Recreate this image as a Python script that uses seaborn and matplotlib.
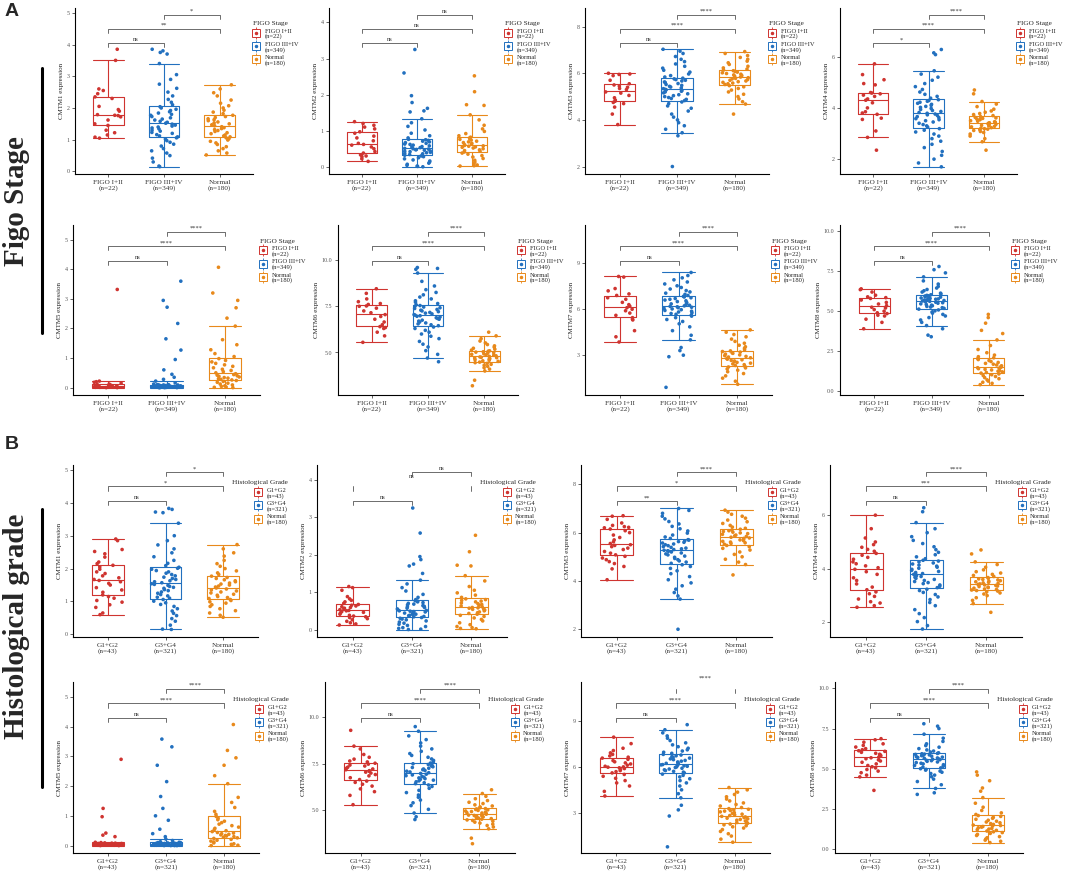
import numpy as np
import pandas as pd
import matplotlib
matplotlib.use("Agg")
import matplotlib.pyplot as plt
from matplotlib.lines import Line2D
import seaborn as sns

# ---- values (per group, CMTM1..CMTM8) ----
cmtm1_normal = [0.52, 0.58, 0.65, 0.72, 0.78, 0.85, 0.90, 0.95, 0.99, 1.03, 1.06,
                1.09, 1.12, 1.15, 1.19, 1.22, 1.26, 1.29, 1.32, 1.35, 1.38, 1.41,
                1.44, 1.47, 1.50, 1.53, 1.56, 1.60, 1.63, 1.66, 1.70, 1.73, 1.77,
                1.82, 1.87, 1.93, 2.00, 2.07, 2.15, 2.25, 2.38, 2.48, 2.60, 2.73]
cmtm1_figo_early = [1.05, 1.08, 1.15, 1.22, 1.30, 1.45, 1.50, 1.62, 1.72, 1.76, 1.77,
                    1.79, 1.90, 1.95, 2.05, 2.30, 2.35, 2.45, 2.55, 2.60, 3.50, 3.85]
cmtm1_figo_late = [0.15, 0.17, 0.30, 0.42, 0.50, 0.58, 0.65, 0.72, 0.80, 0.86, 0.92, 0.97, 1.02, 1.06,
                   1.09, 1.12, 1.16, 1.20, 1.23, 1.27, 1.30, 1.34, 1.37, 1.40, 1.43, 1.46, 1.49, 1.52,
                   1.55, 1.58, 1.62, 1.65, 1.69, 1.73, 1.77, 1.80, 1.84, 1.88, 1.92, 1.96, 2.00, 2.04,
                   2.10, 2.18, 2.27, 2.38, 2.50, 2.62, 2.75, 2.90, 3.05, 3.40, 3.70, 3.75, 3.80, 3.85]
cmtm1_grade_low = [0.60, 0.65, 0.82, 0.90, 0.98, 1.03, 1.10, 1.15,
                   1.20, 1.28, 1.35, 1.42, 1.50, 1.55, 1.60, 1.64,
                   1.67, 1.72, 1.78, 1.85, 1.90, 1.98, 2.05, 2.10,
                   2.15, 2.20, 2.35, 2.45, 2.52, 2.58, 2.85, 2.90]
cmtm1_grade_high = [0.15, 0.16, 0.28, 0.40, 0.48, 0.57, 0.64, 0.71, 0.78, 0.85, 0.91, 0.96, 1.01, 1.06,
                    1.10, 1.13, 1.17, 1.21, 1.25, 1.29, 1.33, 1.36, 1.40, 1.43, 1.46, 1.49, 1.52, 1.54,
                    1.57, 1.60, 1.63, 1.67, 1.70, 1.74, 1.78, 1.82, 1.86, 1.90, 1.94, 1.98, 2.01, 2.04,
                    2.09, 2.16, 2.25, 2.36, 2.48, 2.60, 2.72, 2.85, 3.00, 3.38, 3.70, 3.72, 3.80, 3.83]

cmtm2_normal = [0.02, 0.03, 0.05, 0.08, 0.13, 0.18, 0.23, 0.27, 0.31, 0.35, 0.38,
                0.41, 0.43, 0.45, 0.47, 0.50, 0.52, 0.54, 0.55, 0.57, 0.58, 0.59,
                0.61, 0.63, 0.65, 0.67, 0.69, 0.71, 0.74, 0.76, 0.78, 0.80, 0.82,
                0.86, 0.92, 0.98, 1.05, 1.15, 1.30, 1.44, 1.70, 1.72, 2.08, 2.52]
cmtm2_figo_early = [0.15, 0.22, 0.28, 0.30, 0.33, 0.38, 0.42, 0.50, 0.55, 0.60, 0.62,
                    0.65, 0.72, 0.80, 0.85, 0.93, 0.97, 1.05, 1.10, 1.15, 1.20, 1.25]
cmtm2_figo_late = [0.00, 0.01, 0.02, 0.04, 0.07, 0.10, 0.13, 0.16, 0.19, 0.22, 0.25, 0.28, 0.30, 0.32,
                   0.34, 0.36, 0.37, 0.39, 0.40, 0.42, 0.43, 0.44, 0.46, 0.47, 0.48, 0.49, 0.50, 0.51,
                   0.53, 0.55, 0.56, 0.58, 0.60, 0.62, 0.63, 0.65, 0.67, 0.69, 0.71, 0.73, 0.75, 0.76,
                   0.80, 0.86, 0.93, 1.02, 1.12, 1.22, 1.33, 1.52, 1.55, 1.62, 1.78, 1.97, 2.60, 3.25]
cmtm2_grade_low = [0.12, 0.15, 0.18, 0.22, 0.26, 0.29, 0.32, 0.34,
                   0.36, 0.38, 0.41, 0.44, 0.46, 0.48, 0.50, 0.51,
                   0.53, 0.55, 0.57, 0.59, 0.61, 0.63, 0.65, 0.67,
                   0.70, 0.74, 0.78, 0.82, 0.88, 1.05, 1.12, 1.15]
cmtm2_grade_high = [0.00, 0.01, 0.03, 0.05, 0.08, 0.11, 0.14, 0.17, 0.20, 0.23, 0.26, 0.28, 0.30, 0.32,
                    0.34, 0.35, 0.37, 0.38, 0.40, 0.41, 0.43, 0.44, 0.46, 0.47, 0.48, 0.49, 0.50, 0.51,
                    0.53, 0.55, 0.57, 0.59, 0.61, 0.62, 0.64, 0.66, 0.68, 0.70, 0.72, 0.74, 0.76, 0.77,
                    0.80, 0.86, 0.94, 1.03, 1.12, 1.22, 1.32, 1.50, 1.70, 1.75, 1.87, 1.95, 2.58, 3.25]

cmtm3_normal = [4.25, 4.68, 4.78, 4.90, 5.00, 5.10, 5.20, 5.28, 5.35, 5.42, 5.47,
                5.52, 5.55, 5.58, 5.61, 5.64, 5.67, 5.70, 5.73, 5.76, 5.78, 5.81,
                5.84, 5.87, 5.90, 5.93, 5.96, 5.99, 6.02, 6.05, 6.08, 6.11, 6.14,
                6.18, 6.23, 6.30, 6.38, 6.45, 6.52, 6.60, 6.68, 6.76, 6.85, 6.93]
cmtm3_figo_early = [3.80, 4.25, 4.55, 4.70, 4.75, 4.80, 4.85, 4.95, 5.05, 5.15, 5.20,
                    5.30, 5.35, 5.40, 5.45, 5.50, 5.55, 5.70, 5.90, 5.95, 5.97, 6.00]
cmtm3_figo_late = [2.00, 3.32, 3.45, 3.60, 3.75, 3.88, 4.00, 4.12, 4.25, 4.38, 4.50, 4.60, 4.70, 4.77,
                   4.83, 4.88, 4.92, 4.96, 5.00, 5.04, 5.08, 5.12, 5.16, 5.20, 5.23, 5.26, 5.29, 5.31,
                   5.34, 5.37, 5.41, 5.44, 5.48, 5.52, 5.56, 5.60, 5.63, 5.67, 5.70, 5.73, 5.76, 5.79,
                   5.84, 5.90, 5.97, 6.05, 6.13, 6.22, 6.30, 6.40, 6.50, 6.60, 6.72, 6.85, 6.95, 7.03]
cmtm3_grade_low = [4.05, 4.50, 4.60, 4.72, 4.80, 4.88, 4.95, 5.02,
                   5.08, 5.15, 5.22, 5.30, 5.36, 5.42, 5.47, 5.50,
                   5.55, 5.62, 5.70, 5.80, 5.90, 6.00, 6.08, 6.15,
                   6.20, 6.22, 6.25, 6.30, 6.40, 6.55, 6.68, 6.70]
cmtm3_grade_high = [2.00, 3.25, 3.38, 3.52, 3.66, 3.80, 3.92, 4.05, 4.18, 4.30, 4.42, 4.52, 4.60, 4.67,
                    4.73, 4.78, 4.83, 4.88, 4.93, 4.98, 5.03, 5.08, 5.12, 5.16, 5.20, 5.23, 5.25, 5.27,
                    5.30, 5.33, 5.36, 5.39, 5.42, 5.46, 5.50, 5.53, 5.57, 5.60, 5.63, 5.66, 5.69, 5.71,
                    5.76, 5.82, 5.90, 5.98, 6.07, 6.16, 6.26, 6.36, 6.46, 6.57, 6.68, 6.80, 6.92, 7.00]

cmtm4_normal = [2.35, 2.68, 2.80, 2.90, 2.98, 3.04, 3.08, 3.12, 3.15, 3.17, 3.19,
                3.21, 3.23, 3.26, 3.28, 3.30, 3.32, 3.34, 3.36, 3.38, 3.40, 3.42,
                3.44, 3.46, 3.48, 3.50, 3.52, 3.54, 3.57, 3.59, 3.61, 3.63, 3.66,
                3.70, 3.74, 3.78, 3.83, 3.88, 3.95, 4.05, 4.15, 4.25, 4.55, 4.70]
cmtm4_figo_early = [2.35, 2.85, 3.10, 3.55, 3.60, 3.75, 3.80, 3.85, 4.00, 4.20, 4.30,
                    4.35, 4.45, 4.50, 4.55, 4.58, 4.60, 4.90, 4.95, 5.10, 5.30, 5.72]
cmtm4_figo_late = [1.70, 1.85, 2.00, 2.15, 2.30, 2.45, 2.58, 2.70, 2.80, 2.90, 2.98, 3.06, 3.13, 3.19,
                   3.25, 3.30, 3.35, 3.40, 3.45, 3.50, 3.54, 3.58, 3.62, 3.66, 3.70, 3.73, 3.76, 3.79,
                   3.82, 3.86, 3.90, 3.94, 3.98, 4.02, 4.06, 4.10, 4.14, 4.18, 4.22, 4.26, 4.29, 4.32,
                   4.38, 4.45, 4.53, 4.62, 4.72, 4.83, 4.95, 5.08, 5.20, 5.32, 5.45, 6.08, 6.15, 6.28]
cmtm4_grade_low = [2.54, 2.60, 2.70, 2.75, 2.85, 2.95, 3.05, 3.12,
                   3.20, 3.30, 3.42, 3.55, 3.65, 3.78, 3.88, 3.97,
                   4.03, 4.10, 4.18, 4.25, 4.35, 4.42, 4.50, 4.57,
                   4.65, 4.72, 4.80, 4.90, 5.00, 5.15, 5.50, 6.01]
cmtm4_grade_high = [1.72, 1.85, 2.00, 2.15, 2.30, 2.45, 2.60, 2.72, 2.83, 2.93, 3.02, 3.10, 3.17, 3.22,
                    3.28, 3.33, 3.38, 3.43, 3.47, 3.51, 3.55, 3.59, 3.63, 3.67, 3.70, 3.73, 3.76, 3.78,
                    3.81, 3.85, 3.89, 3.93, 3.97, 4.01, 4.05, 4.09, 4.13, 4.17, 4.21, 4.25, 4.28, 4.31,
                    4.37, 4.44, 4.52, 4.61, 4.71, 4.82, 4.94, 5.06, 5.20, 5.35, 5.50, 5.73, 6.14, 6.29]

cmtm5_normal = [0.00, 0.01, 0.02, 0.04, 0.06, 0.09, 0.12, 0.15, 0.18, 0.21, 0.24,
                0.26, 0.28, 0.30, 0.32, 0.34, 0.36, 0.38, 0.40, 0.42, 0.44, 0.47,
                0.50, 0.54, 0.58, 0.62, 0.67, 0.72, 0.77, 0.82, 0.87, 0.92, 0.98,
                1.05, 1.15, 1.28, 1.45, 1.62, 2.08, 2.35, 2.70, 2.95, 3.20, 4.07]
cmtm5_figo_early = [0.00, 0.00, 0.01, 0.01, 0.02, 0.02, 0.03, 0.03, 0.04, 0.05, 0.05,
                    0.06, 0.07, 0.08, 0.09, 0.10, 0.12, 0.15, 0.18, 0.20, 0.22, 3.32]
cmtm5_figo_late = [0.00, 0.00, 0.00, 0.00, 0.01, 0.01, 0.01, 0.01, 0.02, 0.02, 0.02, 0.02, 0.02, 0.02,
                   0.02, 0.03, 0.03, 0.03, 0.03, 0.04, 0.04, 0.04, 0.04, 0.05, 0.05, 0.05, 0.05, 0.05,
                   0.06, 0.06, 0.06, 0.07, 0.07, 0.07, 0.08, 0.08, 0.08, 0.09, 0.09, 0.09, 0.10, 0.10,
                   0.12, 0.16, 0.22, 0.28, 0.35, 0.45, 0.60, 0.95, 1.27, 1.65, 2.17, 2.72, 2.95, 3.60]
cmtm5_grade_low = [0.00, 0.00, 0.01, 0.01, 0.02, 0.02, 0.02, 0.03,
                   0.03, 0.03, 0.04, 0.04, 0.04, 0.05, 0.05, 0.05,
                   0.06, 0.06, 0.06, 0.07, 0.07, 0.08, 0.08, 0.09,
                   0.10, 0.11, 0.30, 0.35, 0.42, 0.97, 1.25, 2.90]
cmtm5_grade_high = [0.00, 0.00, 0.00, 0.00, 0.01, 0.01, 0.01, 0.01, 0.01, 0.02, 0.02, 0.02, 0.02, 0.02,
                    0.03, 0.03, 0.03, 0.03, 0.03, 0.04, 0.04, 0.04, 0.04, 0.04, 0.05, 0.05, 0.05, 0.05,
                    0.06, 0.06, 0.06, 0.07, 0.07, 0.07, 0.08, 0.08, 0.08, 0.09, 0.09, 0.10, 0.10, 0.11,
                    0.13, 0.17, 0.22, 0.30, 0.40, 0.55, 0.85, 1.00, 1.25, 1.65, 2.15, 2.70, 3.32, 3.58]

cmtm6_normal = [3.20, 3.50, 4.00, 4.10, 4.18, 4.25, 4.31, 4.36, 4.41, 4.45, 4.48,
                4.52, 4.55, 4.58, 4.61, 4.64, 4.67, 4.70, 4.72, 4.74, 4.76, 4.79,
                4.82, 4.85, 4.87, 4.90, 4.93, 4.96, 4.99, 5.02, 5.04, 5.07, 5.09,
                5.13, 5.18, 5.23, 5.29, 5.36, 5.43, 5.52, 5.62, 5.75, 5.90, 6.10]
cmtm6_figo_early = [5.55, 5.90, 6.10, 6.30, 6.35, 6.40, 6.50, 6.65, 6.80, 6.95, 7.05,
                    7.15, 7.25, 7.40, 7.50, 7.52, 7.60, 7.65, 7.75, 7.90, 8.20, 8.45]
cmtm6_figo_late = [4.50, 4.70, 4.90, 5.10, 5.30, 5.45, 5.60, 5.75, 5.88, 6.00, 6.10, 6.20, 6.30, 6.38,
                   6.45, 6.50, 6.55, 6.60, 6.65, 6.70, 6.75, 6.80, 6.84, 6.88, 6.92, 6.96, 6.99, 7.02,
                   7.05, 7.09, 7.13, 7.17, 7.21, 7.25, 7.29, 7.33, 7.38, 7.42, 7.46, 7.50, 7.54, 7.58,
                   7.65, 7.72, 7.80, 7.90, 8.00, 8.12, 8.25, 8.40, 8.60, 8.85, 9.30, 9.50, 9.55, 9.60]
cmtm6_grade_low = [5.30, 5.80, 6.00, 6.15, 6.30, 6.40, 6.50, 6.57,
                   6.65, 6.75, 6.85, 6.92, 7.00, 7.05, 7.10, 7.13,
                   7.18, 7.22, 7.27, 7.32, 7.38, 7.43, 7.48, 7.53,
                   7.60, 7.65, 7.75, 7.85, 8.00, 8.30, 8.45, 9.30]
cmtm6_grade_high = [4.50, 4.65, 4.85, 5.05, 5.25, 5.40, 5.55, 5.70, 5.82, 5.95, 6.07, 6.18, 6.28, 6.36,
                    6.43, 6.48, 6.53, 6.58, 6.62, 6.66, 6.70, 6.74, 6.78, 6.82, 6.86, 6.90, 6.94, 6.98,
                    7.02, 7.06, 7.10, 7.14, 7.18, 7.22, 7.26, 7.30, 7.34, 7.38, 7.42, 7.46, 7.50, 7.54,
                    7.60, 7.68, 7.76, 7.85, 7.95, 8.05, 8.17, 8.30, 8.45, 8.62, 8.80, 9.00, 9.25, 9.50]

cmtm7_normal = [1.10, 1.30, 1.50, 1.65, 1.80, 1.92, 2.02, 2.10, 2.17, 2.23, 2.28,
                2.33, 2.38, 2.43, 2.48, 2.53, 2.58, 2.62, 2.66, 2.70, 2.74, 2.78,
                2.83, 2.88, 2.92, 2.97, 3.02, 3.07, 3.12, 3.16, 3.20, 3.24, 3.28,
                3.35, 3.45, 3.55, 3.65, 3.78, 3.90, 4.05, 4.20, 4.35, 4.50, 4.65]
cmtm7_figo_early = [3.86, 4.20, 4.60, 5.30, 5.35, 5.45, 5.60, 5.75, 5.90, 6.00, 6.10,
                    6.20, 6.30, 6.45, 6.65, 6.75, 6.90, 7.00, 7.20, 7.35, 8.10, 8.14]
cmtm7_figo_late = [0.90, 2.90, 3.00, 3.30, 3.50, 4.00, 4.30, 4.60, 4.85, 5.05, 5.20, 5.33, 5.45, 5.55,
                   5.62, 5.67, 5.72, 5.77, 5.82, 5.87, 5.92, 5.97, 6.02, 6.06, 6.10, 6.13, 6.16, 6.19,
                   6.22, 6.26, 6.30, 6.35, 6.40, 6.45, 6.50, 6.55, 6.60, 6.65, 6.70, 6.75, 6.80, 6.84,
                   6.90, 6.97, 7.05, 7.13, 7.22, 7.32, 7.42, 7.53, 7.65, 7.78, 7.92, 8.05, 8.20, 8.40]
cmtm7_grade_low = [4.10, 4.40, 4.75, 4.95, 5.10, 5.25, 5.38, 5.50,
                   5.60, 5.68, 5.75, 5.82, 5.88, 5.93, 5.97, 5.99,
                   6.03, 6.10, 6.18, 6.25, 6.32, 6.40, 6.48, 6.56,
                   6.62, 6.70, 6.80, 6.90, 7.05, 7.20, 7.50, 7.92]
cmtm7_grade_high = [0.80, 2.80, 3.20, 3.50, 3.98, 4.25, 4.50, 4.75, 4.95, 5.10, 5.22, 5.34, 5.44, 5.52,
                    5.60, 5.65, 5.70, 5.75, 5.80, 5.85, 5.90, 5.95, 5.99, 6.03, 6.06, 6.09, 6.12, 6.14,
                    6.18, 6.22, 6.26, 6.31, 6.36, 6.41, 6.46, 6.51, 6.56, 6.61, 6.66, 6.71, 6.76, 6.80,
                    6.87, 6.94, 7.02, 7.10, 7.20, 7.30, 7.42, 7.55, 7.70, 7.85, 8.00, 8.20, 8.40, 8.73]

cmtm8_normal = [0.40, 0.48, 0.55, 0.62, 0.70, 0.77, 0.84, 0.91, 0.97, 1.02, 1.07,
                1.12, 1.16, 1.20, 1.24, 1.28, 1.32, 1.36, 1.40, 1.43, 1.46, 1.49,
                1.53, 1.58, 1.63, 1.68, 1.73, 1.79, 1.85, 1.91, 1.97, 2.03, 2.08,
                2.15, 2.25, 2.40, 2.60, 2.85, 3.20, 3.60, 3.80, 4.25, 4.60, 4.80]
cmtm8_figo_early = [3.90, 4.30, 4.50, 4.70, 4.75, 4.85, 4.90, 5.00, 5.10, 5.20, 5.25,
                    5.35, 5.45, 5.55, 5.70, 5.80, 5.85, 5.90, 6.00, 6.20, 6.35, 6.40]
cmtm8_figo_late = [3.40, 3.50, 3.90, 4.10, 4.30, 4.45, 4.60, 4.70, 4.80, 4.88, 4.95, 5.02, 5.08, 5.13,
                   5.18, 5.22, 5.26, 5.30, 5.34, 5.38, 5.42, 5.46, 5.50, 5.53, 5.56, 5.59, 5.62, 5.64,
                   5.67, 5.70, 5.72, 5.75, 5.77, 5.80, 5.83, 5.85, 5.88, 5.90, 5.93, 5.95, 5.97, 5.99,
                   6.03, 6.08, 6.13, 6.20, 6.28, 6.36, 6.45, 6.55, 6.70, 6.90, 7.15, 7.40, 7.60, 7.80]
cmtm8_grade_low = [3.65, 4.49, 4.60, 4.75, 4.85, 4.95, 5.05, 5.12,
                   5.20, 5.30, 5.40, 5.48, 5.55, 5.62, 5.68, 5.72,
                   5.75, 5.80, 5.85, 5.90, 5.96, 6.02, 6.08, 6.12,
                   6.18, 6.25, 6.35, 6.45, 6.55, 6.65, 6.80, 6.87]
cmtm8_grade_high = [3.40, 3.50, 3.77, 4.00, 4.20, 4.35, 4.50, 4.60, 4.70, 4.78, 4.85, 4.91, 4.96, 5.00,
                    5.05, 5.10, 5.15, 5.20, 5.25, 5.30, 5.34, 5.38, 5.42, 5.46, 5.50, 5.53, 5.56, 5.59,
                    5.62, 5.65, 5.67, 5.70, 5.72, 5.75, 5.78, 5.81, 5.84, 5.86, 5.89, 5.91, 5.93, 5.95,
                    5.99, 6.04, 6.10, 6.17, 6.25, 6.34, 6.44, 6.55, 6.70, 6.90, 7.15, 7.50, 7.65, 7.80]

genes = ["CMTM1", "CMTM2", "CMTM3", "CMTM4", "CMTM5", "CMTM6", "CMTM7", "CMTM8"]
figo_labels = ["FIGO I+II\n(n=22)", "FIGO III+IV\n(n=349)", "Normal\n(n=180)"]
grade_labels = ["G1+G2\n(n=43)", "G3+G4\n(n=321)", "Normal\n(n=180)"]

# significance for pairs (0-1, 0-2, 1-2)
figo_sig = [["ns", "**", "*"], ["ns", "ns", "ns"], ["ns", "****", "****"], ["*", "****", "****"],
            ["ns", "****", "****"], ["ns", "****", "****"], ["ns", "****", "****"], ["ns", "****", "****"]]
grade_sig = [["ns", "*", "*"], ["ns", "ns", "ns"], ["**", "*", "****"], ["ns", "***", "****"],
             ["ns", "****", "****"], ["ns", "****", "****"], ["ns", "****", "****"], ["ns", "****", "****"]]

y_limits = [(-0.08, 5.15), (-0.2, 4.4), (1.68, 8.8), (1.42, 7.9),
            (-0.25, 5.5), (2.7, 11.9), (0.4, 11.5), (-0.25, 10.4)]
y_ticks = [[0, 1, 2, 3, 4, 5], [0, 1, 2, 3, 4], [2, 4, 6, 8], [2, 4, 6],
           [0, 1, 2, 3, 4, 5], [5.0, 7.5, 10.0], [3, 6, 9], [0.0, 2.5, 5.0, 7.5, 10.0]]
y_ticklabels = [["0", "1", "2", "3", "4", "5"], ["0", "1", "2", "3", "4"], ["2", "4", "6", "8"],
                ["2", "4", "6"], ["0", "1", "2", "3", "4", "5"], ["5.0", "7.5", "10.0"],
                ["3", "6", "9"], ["0.0", "2.5", "5.0", "7.5", "10.0"]]

figo_data = [[cmtm1_figo_early, cmtm1_figo_late, cmtm1_normal],
             [cmtm2_figo_early, cmtm2_figo_late, cmtm2_normal],
             [cmtm3_figo_early, cmtm3_figo_late, cmtm3_normal],
             [cmtm4_figo_early, cmtm4_figo_late, cmtm4_normal],
             [cmtm5_figo_early, cmtm5_figo_late, cmtm5_normal],
             [cmtm6_figo_early, cmtm6_figo_late, cmtm6_normal],
             [cmtm7_figo_early, cmtm7_figo_late, cmtm7_normal],
             [cmtm8_figo_early, cmtm8_figo_late, cmtm8_normal]]
grade_data = [[cmtm1_grade_low, cmtm1_grade_high, cmtm1_normal],
              [cmtm2_grade_low, cmtm2_grade_high, cmtm2_normal],
              [cmtm3_grade_low, cmtm3_grade_high, cmtm3_normal],
              [cmtm4_grade_low, cmtm4_grade_high, cmtm4_normal],
              [cmtm5_grade_low, cmtm5_grade_high, cmtm5_normal],
              [cmtm6_grade_low, cmtm6_grade_high, cmtm6_normal],
              [cmtm7_grade_low, cmtm7_grade_high, cmtm7_normal],
              [cmtm8_grade_low, cmtm8_grade_high, cmtm8_normal]]

colors = ["#CF3430", "#2270BF", "#E8891B"]

# layout in pixels (figure 1065 x 872)
W, H = 1065, 872
row_tops = [8, 225, 465, 682]
row_bottoms = [174, 395, 637, 853]
col_lefts = [[75, 329, 585, 840], [73, 338, 585, 840], [73, 317, 581, 830], [73, 325, 581, 835]]
col_widths = [[178, 176, 184, 177], [187, 180, 187, 183], [185, 190, 191, 192], [186, 190, 189, 188]]
legend_x = [[1.0, 1.0, 1.0, 1.0], [1.0, 1.0, 1.0, 0.94],
            [0.86, 0.86, 0.86, 0.86], [0.86, 0.86, 0.86, 0.86]]
bracket_pairs = [(0, 1), (0, 2), (1, 2)]
bracket_y = [0.79, 0.875, 0.96]
broken_brackets = {("grade", 1, 1), ("grade", 6, 2)}
box_width = 0.55

np.random.seed(11)
sns.set_theme(style="ticks")
plt.rcParams.update({
    'font.family': ['Liberation Serif', 'DejaVu Serif'],
    'axes.linewidth': 0.8,
    'axes.edgecolor': 'black',
    'xtick.major.width': 0.5,
    'ytick.major.width': 0.5,
    'xtick.major.size': 2.5,
    'ytick.major.size': 2.5,
    'xtick.major.pad': 1.5,
    'ytick.major.pad': 1.5,
})


def draw_panel(ax, g, kind, lx):
    labels = figo_labels if kind == "figo" else grade_labels
    vals = figo_data[g] if kind == "figo" else grade_data[g]
    sig = figo_sig[g] if kind == "figo" else grade_sig[g]
    palette = dict(zip(labels, colors))
    df = pd.DataFrame({
        'group': np.repeat(labels, [len(v) for v in vals]),
        'value': np.concatenate([np.asarray(v, float) for v in vals]),
    })
    sns.boxplot(data=df, x='group', y='value', hue='group', order=labels, hue_order=labels,
                palette=palette, fill=False, width=box_width, linewidth=0.8,
                showfliers=False, legend=False, ax=ax)
    # ggplot-style full width whisker caps
    for ln in ax.lines:
        xd, yd = np.asarray(ln.get_xdata(), float), np.asarray(ln.get_ydata(), float)
        if len(xd) == 2 and yd[0] == yd[1] and abs(xd[1] - xd[0]) < 0.9 * box_width:
            mid = xd.mean()
            ln.set_xdata([mid - box_width / 2, mid + box_width / 2])
    sns.stripplot(data=df, x='group', y='value', hue='group', order=labels, hue_order=labels,
                  palette=palette, size=2.6, jitter=0.25, linewidth=0, legend=False,
                  zorder=3, ax=ax)

    ax.set_xlim(-0.6, 2.6)
    ax.set_ylim(*y_limits[g])
    ax.set_yticks(y_ticks[g], y_ticklabels[g])
    ax.set_xticks([0, 1, 2], labels)
    ax.tick_params(axis='x', labelsize=5.2, labelcolor='#333333')
    ax.tick_params(axis='y', labelsize=4.3, labelcolor='#555555')
    ax.set_xlabel('')
    ax.set_ylabel(genes[g] + " expression", fontsize=5, labelpad=2, color='#222222')
    sns.despine(ax=ax)

    tr = ax.get_xaxis_transform()
    for k, (a, b) in enumerate(bracket_pairs):
        yf = bracket_y[k]
        if (kind, g, k) in broken_brackets:
            for xx in (a, b):
                ax.plot([xx, xx], [yf - 0.025, yf], color='#555555', lw=0.6,
                        transform=tr, clip_on=False)
            ty = yf + 0.045
        else:
            ax.plot([a, a, b, b], [yf - 0.025, yf, yf, yf - 0.025], color='#555555',
                    lw=0.6, transform=tr, clip_on=False)
            ty = yf + 0.004
        ax.text((a + b) / 2, ty, sig[k], ha='center', va='bottom', fontsize=4.6,
                color='#333333', transform=tr)

    handles = [(Line2D([], [], marker='|', markersize=8.5, mew=0.6, color=c, ls=''),
                Line2D([], [], marker='s', markersize=5.2, mfc='white', mec=c, mew=0.7, ls=''),
                Line2D([], [], marker='o', markersize=1.5, color=c, ls=''))
               for c in colors]
    common = dict(loc='upper left', fontsize=4.7, title_fontsize=5.2, frameon=False,
                  handlelength=1.0, handleheight=1.5, handletextpad=0.8, labelspacing=0.4,
                  borderpad=0, borderaxespad=0)
    if kind == "figo":
        leg = ax.legend(handles, labels, title="FIGO Stage", bbox_to_anchor=(lx, 0.92),
                        alignment='left', **common)
    else:
        leg = ax.legend(handles, labels, title="Histological Grade", bbox_to_anchor=(lx, 0.91),
                        alignment='right', **common)
    for t in leg.get_texts():
        t.set_linespacing(0.95)


fig = plt.figure(figsize=(W / 100, H / 100), dpi=100)
for r in range(4):
    kind = "figo" if r < 2 else "grade"
    for c in range(4):
        g = (r % 2) * 4 + c
        l, w = col_lefts[r][c], col_widths[r][c]
        t, b = row_tops[r], row_bottoms[r]
        ax = fig.add_axes([l / W, 1 - b / H, w / W, (b - t) / H])
        draw_panel(ax, g, kind, legend_x[r][c])

fig.text(5 / W, 1 - 3 / H, "A", fontsize=14, fontweight='bold', family='Liberation Sans',
         ha='left', va='top')
fig.text(5 / W, 1 - 436 / H, "B", fontsize=14, fontweight='bold', family='Liberation Sans',
         ha='left', va='top')
fig.text(17 / W, 1 - 201 / H, "Figo Stage", rotation=90, fontsize=21, fontweight='bold',
         ha='center', va='center')
fig.text(17 / W, 1 - 626 / H, "Histological grade", rotation=90, fontsize=21, fontweight='bold',
         ha='center', va='center')
fig.add_artist(Line2D([42 / W, 42 / W], [1 - 68 / H, 1 - 333 / H], lw=2.2, color='black',
                      transform=fig.transFigure))
fig.add_artist(Line2D([42 / W, 42 / W], [1 - 509 / H, 1 - 787 / H], lw=2.2, color='black',
                      transform=fig.transFigure))

fig.savefig("out.png", dpi=100)
